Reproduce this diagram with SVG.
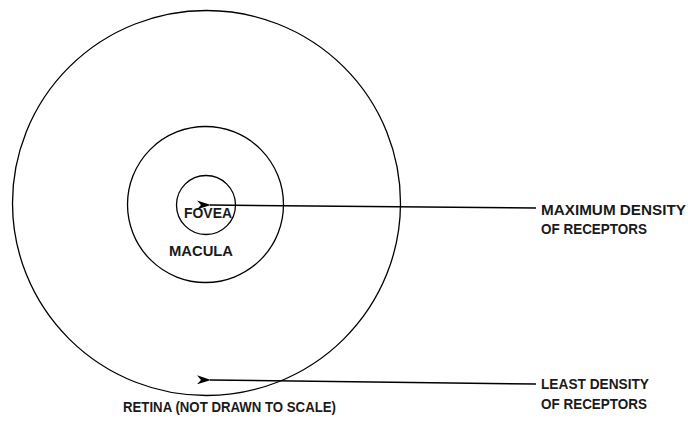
<svg xmlns="http://www.w3.org/2000/svg" width="688" height="422" viewBox="0 0 688 422">
<style>
.c{fill:none;stroke:#000;stroke-width:1.3}
.l{stroke:#000;stroke-width:1.5;fill:none}
text{font-family:"Liberation Sans",Arial,sans-serif;font-weight:bold;font-size:15.5px;fill:#1a1a1a}
</style>
<defs>
<marker id="ah" viewBox="0 0 14 9" refX="1" refY="4.5" markerWidth="14" markerHeight="9" markerUnits="userSpaceOnUse" orient="auto-start-reverse">
<path d="M0,4.5 L14,0 L10,4.5 L14,9 Z" fill="#000"/>
</marker>
</defs>
<rect width="688" height="422" fill="#fff"/>
<g id="retina"><ellipse class="c" cx="206.5" cy="203" rx="194" ry="192.5"/>
<text x="123" y="412" textLength="213" lengthAdjust="spacingAndGlyphs">RETINA (NOT DRAWN TO SCALE)</text></g>
<g id="macula"><circle class="c" cx="205.5" cy="204.5" r="78"/>
<text x="169" y="256" textLength="64" lengthAdjust="spacingAndGlyphs">MACULA</text></g>
<g id="fovea"><circle class="c" cx="206" cy="205" r="29.5"/>
<text x="184" y="218" textLength="48" lengthAdjust="spacingAndGlyphs">FOVEA</text></g>
<g id="label-max"><text x="541" y="215" textLength="145" lengthAdjust="spacingAndGlyphs">MAXIMUM DENSITY</text>
<text x="541" y="234" textLength="106" lengthAdjust="spacingAndGlyphs">OF RECEPTORS</text></g>
<g id="label-least"><text x="541" y="389" textLength="108" lengthAdjust="spacingAndGlyphs">LEAST DENSITY</text>
<text x="541" y="409" textLength="106" lengthAdjust="spacingAndGlyphs">OF RECEPTORS</text></g>
<g id="connectors">
<line class="l" x1="536" y1="208" x2="210" y2="205" marker-end="url(#ah)"/>
<line class="l" x1="536" y1="384" x2="210" y2="380" marker-end="url(#ah)"/>
</g>
</svg>
